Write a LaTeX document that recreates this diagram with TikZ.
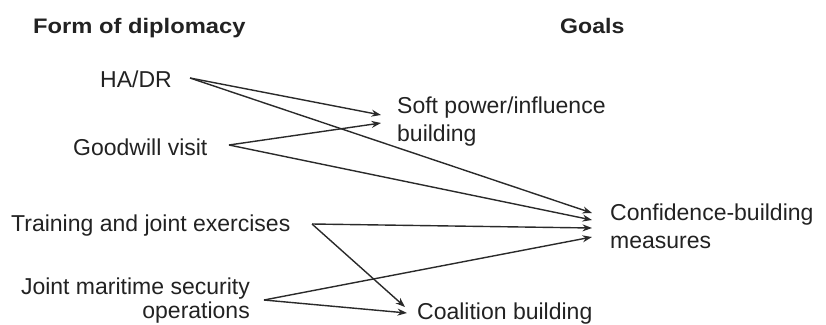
\documentclass[tikz,border=0pt]{standalone}
\usepackage{fontspec}
\setmainfont{Liberation Sans}
\usetikzlibrary{arrows.meta}
\definecolor{ink}{HTML}{222222}
\definecolor{linec}{HTML}{2A2A2A}
\begin{document}
\begin{tikzpicture}[x=1pt,y=-1pt,
  lbl/.style={inner sep=0pt,text=ink,font=\fontsize{23}{23}\selectfont},
  head/.style={inner sep=0pt,text=ink,font=\fontsize{21}{21}\selectfont\bfseries},
  conn/.style={draw=linec,line width=1.4pt,-{Stealth[length=9.5pt,width=7pt]}}]
\useasboundingbox (0,0) rectangle (826,324);
% headings
\node[head,anchor=base west] (hform) at (33,33) {\scalebox{1.13}[1]{Form of diplomacy}};
\node[head,anchor=base west] (hgoal) at (560,33) {\scalebox{1.1}[1]{Goals}};
% forms
\node[lbl,anchor=base west] (hadr) at (100,87.5) {HA/DR};
\node[lbl,anchor=base west] (good) at (73,155) {Goodwill visit};
\node[lbl,anchor=base west] (train) at (11,231) {Training and joint exercises};
\node[lbl,anchor=base east,align=right,font=\fontsize{23}{23.5}\selectfont] (joint) at (250,318) {Joint maritime security\\operations};
% goals
\node[lbl,anchor=base west,align=left,font=\fontsize{23}{28}\selectfont] (soft) at (397,141) {Soft power/influence\\building};
\node[lbl,anchor=base west,align=left,font=\fontsize{23}{28.5}\selectfont] (conf) at (610,248.5) {Confidence-building\\measures};
\node[lbl,anchor=base west] (coal) at (417,319) {Coalition building};
% ports
\coordinate (hadr-o) at (190,78);
\coordinate (good-o) at (229,145);
\coordinate (train-o) at (312,224);
\coordinate (joint-o) at (264,300);
\coordinate (soft-a) at (381,115);
\coordinate (soft-b) at (381,123);
\coordinate (conf-a) at (592,213);
\coordinate (conf-b) at (592,220);
\coordinate (conf-c) at (592,228);
\coordinate (conf-d) at (592,237);
\coordinate (coal-a) at (405,307);
\coordinate (coal-b) at (407,313);
% connectors
\draw[conn] (hadr-o) -- (soft-a);
\draw[conn] (hadr-o) -- (conf-a);
\draw[conn] (good-o) -- (soft-b);
\draw[conn] (good-o) -- (conf-b);
\draw[conn] (train-o) -- (conf-c);
\draw[conn] (train-o) -- (coal-a);
\draw[conn] (joint-o) -- (conf-d);
\draw[conn] (joint-o) -- (coal-b);
\end{tikzpicture}
\end{document}
